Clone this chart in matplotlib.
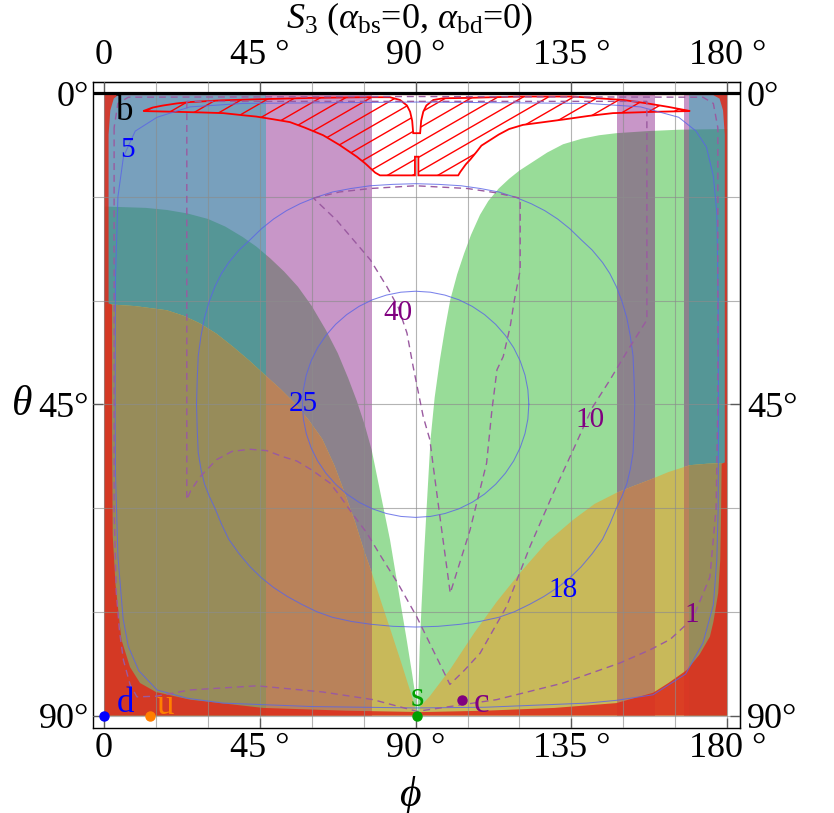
import numpy as np
import matplotlib.pyplot as plt
from matplotlib.path import Path
from matplotlib.patches import PathPatch, Polygon, Rectangle
from matplotlib.collections import LineCollection

plt.rcParams['font.family'] = ['Liberation Serif', 'DejaVu Serif']
plt.rcParams['mathtext.fontset'] = 'custom'
plt.rcParams['mathtext.rm'] = 'Liberation Serif'
plt.rcParams['mathtext.it'] = 'Liberation Serif:italic'

# ---- regions (phi, theta in degrees) ----
blue_bands = [(0.0, 46.7), (169.1, 180.0)]
purple_bands = [(46.7, 77.3), (148.2, 159.2), (167.6, 169.1)]
band_top = 0.3

green_phi = [0, 0, 6, 12, 18.1, 24, 30, 35, 40, 44, 48, 52, 56, 60, 64, 67.5, 70.5, 73, 75.3, 77.3,
             79.5, 82.6, 85.0, 87.4, 89.0, 90.1, 90.5,
             90.8, 91.2, 91.7, 92.4, 93.2, 94.3, 95.5, 97.0, 98.5, 100.0, 102, 104, 106, 108.6, 111, 114,
             117, 120, 124, 128, 132.6, 138, 143, 148, 157, 166, 180, 180]
green_theta = [90, 16.4, 16.5, 16.6, 16.9, 17.4, 18.2, 19.3, 20.8, 22.2, 23.9, 25.8, 28.0, 30.8, 34.2,
               37.6, 41.2, 44.5, 48.0, 51.6,
               57.0, 64.6, 71.8, 79.0, 84.0, 87.7, 89.5,
               86.7, 80.0, 74.2, 67.0, 59.8, 50.1, 44.0, 38.6, 34.0, 29.9, 26.2, 23.2, 20.5, 17.6, 15.6, 13.8,
               12.4, 11.2, 9.9, 8.6, 7.4, 6.6, 6.1, 5.8, 5.5, 5.3, 5.2, 90]

yl_phi = [0, 0, 9, 18.1, 23, 27.7, 32.5, 37.3, 42, 47.0, 51, 55, 59, 63, 66.5, 69.5, 72.5, 75.0, 77.3,
          80, 83.0, 86, 88.9, 90.3, 90.3]
yl_theta = [90, 30.5, 30.8, 31.4, 32.2, 33.3, 34.8, 36.7, 38.7, 41.0, 42.8, 44.8, 47.2, 50.0, 53.8,
            57.8, 62.0, 66.0, 69.3, 73.5, 78.0, 82.6, 87.2, 89.6, 90]

yr_phi = [91.0, 91.3, 94.1, 100, 107.0, 113.5, 120.1, 127.8, 135.5, 141.7, 148.0, 153, 157.7, 163,
          169.2, 174, 177.9, 180, 180]
yr_theta = [90, 88.7, 87.2, 83.3, 78.0, 73.5, 69.4, 65.0, 61.7, 59.4, 57.8, 56.8, 55.9, 54.8,
            53.8, 53.6, 53.5, 53.5, 90]

red_phi = [4, 90, 176, 177.8, 178.8, 179.3, 179.3, 178.4, 178.2, 178.0, 177.4, 176.0, 175.0, 172.0, 168.4,
           163.0, 158.6, 148.0, 130, 110, 92, 70, 46, 24.8, 15, 10.4, 7.5, 5.0, 3.3, 2.5, 2.3, 2.3, 1.3,
           1.3, 1.8, 2.8]
red_theta = [0.3, 0.3, 0.3, 0.8, 2.5, 6, 53.4, 53.6, 62, 67.5, 72.3, 76.5, 78.6, 81.2, 83.4,
             85.3, 86.7, 88.2, 88.9, 89.3, 89.5, 89.3, 88.9, 87.7, 86.6, 85.3, 83.0, 79.0, 71.0, 64.0, 50, 30.6, 30.4,
             6, 2.5, 0.8]

hatch_phi = [11.3, 14.0, 17.0, 21.0, 24.8, 34.0, 44.0, 60.0, 75.0, 82.6, 85.5, 87.5, 88.4, 89.0, 89.3,
             91.3, 91.6, 92.2, 93.1, 95.1, 98.0, 104.7, 120.0,
             135.5, 150.0, 157.0, 163.0, 169.3, 160.0, 147.0, 140.0, 133.0, 127.0, 121.0, 117.0, 114.0,
             111.5, 109.0, 107.6, 105.8, 104.5, 102.9, 102.3, 90.8, 90.8, 89.8, 89.8, 79.7, 78.3, 75.5,
             73.0, 68.0, 63.3, 58.0, 53.7, 49.0, 44.0, 40.0, 34.4, 28.0, 20.0]
hatch_theta = [2.6, 2.1, 1.8, 1.5, 1.3, 1.05, 0.9, 0.7, 0.6, 0.6, 1.0, 1.8, 2.7, 4.0, 5.8,
               5.8, 4.0, 2.7, 1.8, 1.0, 0.75, 0.7, 0.5,
               0.5, 1.0, 1.5, 2.0, 2.6, 2.7, 2.9, 3.3, 3.8, 4.2, 4.6, 5.2, 6.0,
               6.8, 7.6, 8.5, 9.6, 10.3, 11.4, 11.9, 11.9, 9.2, 9.2, 11.9, 11.9, 11.5, 10.2,
               9.2, 7.5, 6.1, 5.0, 4.2, 3.8, 3.4, 3.2, 2.9, 2.8, 2.7]

# ---- contours ----
c5_phi = [3.2, 3.3, 4.0, 5.6, 9.0, 15.3, 24.8, 40.0, 90.0, 140.0, 155.0, 166.0, 171.0, 174.0, 176.0, 177.0,
          177.4, 177.5, 177.4, 177.0, 176.0, 173.0, 168.0, 158.6, 148.0, 139.5, 110.0, 90.0, 60.0, 34.4,
          24.0, 15.3, 10.0, 7.0, 5.5, 4.0, 3.3, 3.2]
c5_theta = [45, 26.6, 15.0, 9.2, 5.5, 3.5, 2.0, 1.5, 1.3, 1.5, 2.0, 3.5, 5.5, 7.8, 12.0, 17.3,
            30.0, 45.0, 60.0, 67.5, 74.0, 79.5, 84.0, 87.0, 87.8, 88.2, 88.8, 88.9, 88.7, 88.2,
            87.5, 86.3, 83.5, 80.0, 76.0, 67.0, 55.0, 45]

c18_phi = [26.7, 26.9, 27.2, 28.0, 29.0, 30.4, 32.0, 33.9, 36.0, 39.0, 42.2, 45.5, 49.0, 52.7, 56.6, 61.0,
           66.0, 71.3, 76.9, 83.4, 90.0, 96.6, 103.1, 108.7, 114.0, 119.0, 123.4, 127.3, 131.0, 134.5,
           137.8, 141.0, 144.0, 146.1, 148.0, 149.6, 151.0, 152.0, 152.8, 153.1, 153.3,
           153.1, 152.8, 152.0, 151.0, 149.6, 148.0, 146.1, 144.0, 141.0, 137.8, 134.5, 131.0, 127.0,
           123.0, 118.5, 114.0, 108.5, 103.0, 96.5, 90.0, 83.5, 77.0, 71.5, 66.0, 61.5, 57.0, 53.0, 49.0,
           45.5, 42.2, 39.0, 36.0, 33.9, 32.0, 30.4, 29.0, 28.0, 27.2, 26.9, 26.7]
c18_theta = [45, 41.5, 38, 35.1, 32.5, 30.1, 28, 26.1, 24.5, 22.7, 21.2, 19.6, 18.2, 17.0, 16.0, 15.1,
             14.3, 13.8, 13.4, 13.2, 13.1, 13.2, 13.4, 13.8, 14.3, 15.1, 16.0, 17.0, 18.2, 19.6,
             21.2, 22.7, 24.5, 26.1, 28, 30.1, 32.5, 35.1, 38, 41.5, 45,
             48.5, 52, 54.4, 56.5, 58.3, 60, 62.3, 64.5, 66.6, 68.5, 70.1, 71.5, 72.8,
             73.9, 75.0, 75.8, 76.4, 76.8, 77.1, 77.2, 77.1, 76.8, 76.4, 75.8, 75.0, 73.9, 72.8, 71.5,
             70.1, 68.5, 66.6, 64.5, 62.3, 60, 58.3, 56.5, 54.4, 52, 48.5, 45]

c25_phi = [122.7, 122.42, 121.59, 120.21, 118.32, 115.94, 113.12, 109.91, 106.35, 102.51, 98.46, 94.27,
           90.0, 85.73, 81.54, 77.49, 73.65, 70.09, 66.88, 64.06, 61.68, 59.79, 58.41, 57.58, 57.3,
           57.58, 58.41, 59.79, 61.68, 64.06, 66.88, 70.09, 73.65, 77.49, 81.54, 85.73, 90.0,
           94.27, 98.46, 102.51, 106.35, 109.91, 113.12, 115.94, 118.32, 120.21, 121.59, 122.42, 122.7]
c25_theta = [45.0, 47.13, 49.23, 51.26, 53.18, 54.95, 56.56, 57.97, 59.16, 60.11, 60.79, 61.21,
             61.35, 61.21, 60.79, 60.11, 59.16, 57.97, 56.56, 54.95, 53.18, 51.26, 49.23, 47.13, 45.0,
             42.87, 40.77, 38.74, 36.82, 35.05, 33.44, 32.03, 30.84, 29.89, 29.21, 28.79, 28.65,
             28.79, 29.21, 29.89, 30.84, 32.03, 33.44, 35.05, 36.82, 38.74, 40.77, 42.87, 45.0]

c40_phi = [60.5, 68.0, 76.9, 90.0, 105.0, 113.0, 120.2, 120.2, 118.5, 117.3, 115.3, 113.5, 112.0, 110.5,
           105.7, 100.0, 97.0, 95.1, 94.1, 92.2, 89.3, 87.5, 85.0, 81.7, 76.9, 67.2, 60.5]
c40_theta = [15.2, 14.3, 13.8, 13.4, 13.8, 14.4, 15.2, 25.6, 30.0, 33.8, 38.1, 40.0, 46.0, 53.5,
             63.2, 72.3, 61.2, 54.0, 50.1, 46.8, 39.6, 34.7, 31.0, 28.0, 24.1, 18.4, 15.2]

c10_phi = [23.9, 23.9, 25.0, 27.7, 32.5, 37.0, 42.2, 47.0, 51.8, 55.7, 60.0, 65.3, 68.2, 72.0, 75.9, 80.0,
           85.0, 90.3, 95.0, 99.9, 104.0, 108.6, 116.3, 123.0, 129.8, 135.5, 141.0, 146.1, 151.5,
           156.8, 156.8, 90.0, 23.9]
c10_theta = [1.2, 58.8, 57.5, 55.5, 53.0, 51.8, 51.5, 51.7, 52.6, 53.2, 54.5, 56.4, 58.3, 61.0, 63.6, 67.0,
             71.0, 75.7, 80.5, 85.5, 83.5, 81.0, 74.2, 65.6, 57.8, 51.6, 45.5, 41.5, 37.0,
             32.8, 1.2, 1.2, 1.2]

c1_phi = [2.9, 2.9, 3.5, 4.5, 5.6, 7.5, 9.5, 15.2, 24.8, 44.2, 63.3, 77.7, 90.4, 113.4, 132.6, 149.0,
          157.7, 163.5, 170.0, 175.0, 176.8, 177.3, 177.3, 176.0, 173.0, 90.0, 7.0, 4.0, 2.9]
c1_theta = [5, 60, 72, 78, 82, 85.5, 87.3, 87.2, 86.3, 85.7, 86.6, 87.7, 89.4, 87.7, 85.3, 82.4,
            80.5, 79.0, 76.0, 70.0, 60, 45, 5.0, 1.5, 0.6, 0.5, 0.6, 1.5, 5]

blue_labels = [('5', 6.9, 8.2), ('25', 57.5, 44.9), ('18', 132.6, 71.8)]
purple_labels = [('40', 84.9, 31.8), ('10', 140.3, 47.3), ('1', 169.8, 75.4)]

points = [('d', 0.0, 90.0, '#0000ff', 6.1, 88.2), ('u', 13.3, 90.0, '#ff7f00', 17.6, 88.6),
          ('s', 90.4, 90.0, '#00a000', 90.4, 87.4), ('c', 103.3, 87.7, '#800080', 108.9, 88.2)]

xt = [0, 45, 90, 135, 180]
xtl = ['0', '45 °', '90 °', '135 °', '180 °']
yt = [0, 45, 90]
ytl = ['0°', '45°', '90°']

# colours of the overlapping regions
c_green = '#98dc98'
c_blue = '#78a0bd'
c_purple = '#c896c8'
c_blue_green = '#559696'
c_purple_green = '#8c828c'
c_yellow = '#c8b95a'
c_yellow_blue = '#978c5a'
c_yellow_purple = '#b9825a'

fig = plt.figure(figsize=(8.34, 8.13), dpi=100)
ax = fig.add_axes([93 / 834, 85 / 813, 647 / 834, 646 / 813])
ax.set_xlim(-3.2, 183.7)
ax.set_ylim(91.8, -1.6)

green = Polygon(np.column_stack([green_phi, green_theta]), closed=True, fc=c_green, ec='none', zorder=1)
ax.add_patch(green)


def band(x0, x1, color, z, clip=None):
    r = Rectangle((x0, band_top), x1 - x0, 90 - band_top, fc=color, ec='none', zorder=z)
    ax.add_patch(r)
    if clip is not None:
        r.set_clip_path(clip)


for x0, x1 in blue_bands:
    band(x0, x1, c_blue, 2)
    band(x0, x1, c_blue_green, 3, green)
for x0, x1 in purple_bands:
    band(x0, x1, c_purple, 2)
    band(x0, x1, c_purple_green, 3, green)

yl = Polygon(np.column_stack([yl_phi, yl_theta]), closed=True, fc=c_yellow, ec='none', zorder=4)
yr = Polygon(np.column_stack([yr_phi, yr_theta]), closed=True, fc=c_yellow, ec='none', zorder=4)
ax.add_patch(yl)
ax.add_patch(yr)
for ypatch in (yl, yr):
    for x0, x1 in blue_bands:
        band(x0, x1, c_yellow_blue, 5, ypatch)
    for x0, x1 in purple_bands:
        band(x0, x1, c_yellow_purple, 5, ypatch)

# red border region: rectangle with a rounded hole
outer = [(0, 0), (180, 0), (180, 90), (0, 90), (0, 0)]
inner = list(zip(red_phi, red_theta))[::-1]
inner.append(inner[0])
verts = outer + inner
codes = ([Path.MOVETO] + [Path.LINETO] * 3 + [Path.CLOSEPOLY] +
         [Path.MOVETO] + [Path.LINETO] * (len(inner) - 2) + [Path.CLOSEPOLY])
ax.add_patch(PathPatch(Path(verts, codes), fc='#de2d1c', ec='none', alpha=0.87, zorder=6))

# grid
for g in np.arange(0, 181, 15):
    ax.axvline(g, color='#8c8c8c', lw=0.8, alpha=0.65, zorder=7)
for g in np.arange(0, 91, 15):
    ax.axhline(g, color='#8c8c8c', lw=0.8, alpha=0.65, zorder=7)

# hatched region
hatch = Polygon(np.column_stack([hatch_phi, hatch_theta]), closed=True, fc='none', ec='#ff0000',
                lw=1.3, zorder=8)
ax.add_patch(hatch)
segs = [[(0, c), (1, c + 0.578)] for c in np.arange(-0.6, 1.05, 0.0225)]
lc = LineCollection(segs, colors='#ff0000', linewidths=1.0, transform=ax.transAxes, zorder=8)
ax.add_collection(lc)
lc.set_clip_path(hatch)

# contours
for ph, th in [(c5_phi, c5_theta), (c18_phi, c18_theta), (c25_phi, c25_theta)]:
    ax.plot(ph, th, color='#5a64e6', lw=0.75, alpha=0.8, zorder=9)
for ph, th in [(c40_phi, c40_theta), (c10_phi, c10_theta), (c1_phi, c1_theta)]:
    ax.plot(ph, th, color='#9a5aa0', lw=1.0, dashes=(5, 3.5), zorder=9)

for s, x, y in blue_labels:
    ax.text(x, y, s, color='#0000ff', fontsize=21, ha='center', va='center', zorder=10)
for s, x, y in purple_labels:
    ax.text(x, y, s, color='#800080', fontsize=21, ha='center', va='center', zorder=10)
ax.text(6.1, 2.6, 'b', color='k', fontsize=25, ha='center', va='center', zorder=10)

for s, x, y, col, tx, ty in points:
    ax.plot(x, y, 'o', color=col, ms=6.5, zorder=12, clip_on=False)
    ax.text(tx, ty, s, color=col, fontsize=25, ha='center', va='center', zorder=12)

ax.axhline(0, color='k', lw=2.3, zorder=11)

# axes frame and ticks
for sp in ax.spines.values():
    sp.set_linewidth(1.0)
ax.set_xticks(xt, labels=xtl)
ax.set_yticks(yt, labels=ytl)
ax.tick_params(direction='in', length=7, width=0.9, labelsize=26, pad=3)
sx = ax.secondary_xaxis('top')
sx.set_xticks(xt, labels=xtl)
sx.tick_params(direction='in', length=7, width=0.9, labelsize=26, pad=7)
sy = ax.secondary_yaxis('right')
sy.set_yticks(yt, labels=ytl)
sy.tick_params(direction='in', length=7, width=0.9, labelsize=26, pad=5)

fig.text(410 / 834, 1 - 28 / 813, r'$S_3$ ($\alpha_{\mathrm{bs}}$=0, $\alpha_{\mathrm{bd}}$=0)',
         fontsize=26, ha='center', va='baseline')
fig.text(410 / 834, 1 - 795 / 813, 'ϕ', fontsize=30, style='italic', ha='center', va='center')
fig.text(22 / 834, 1 - 405 / 813, 'θ', fontsize=30, style='italic', ha='center', va='center')

fig.savefig('out.png', dpi=100)
